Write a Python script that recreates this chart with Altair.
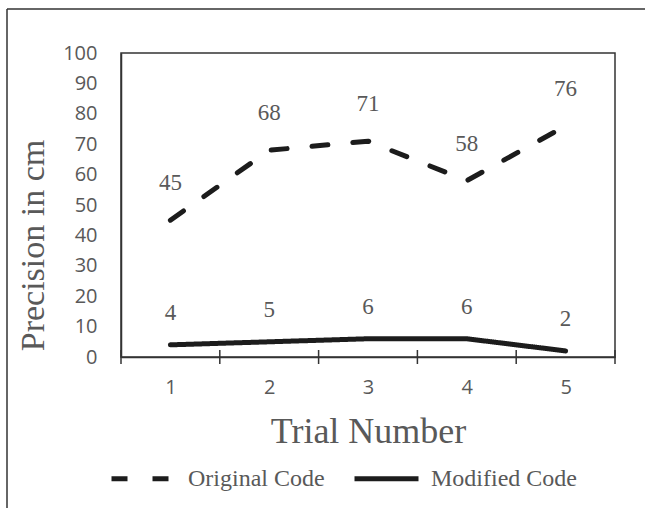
import altair as alt
import pandas as pd

trials = [1, 2, 3, 4, 5]
original = [45, 68, 71, 58, 76]
modified = [4, 5, 6, 6, 2]
series_names = ["Original Code", "Modified Code"]
y_ticks = [0, 10, 20, 30, 40, 50, 60, 70, 80, 90, 100]
band_edges = [0.5, 1.5, 2.5, 3.5, 4.5, 5.5]

W, H = 494, 304
GRAY = "#595959"
DARK = "#1c1c1c"
AXIS = "#333333"

rows = []
for t, v in zip(trials, original):
    rows.append({"trial": t, "value": v, "series": series_names[0]})
for t, v in zip(trials, modified):
    rows.append({"trial": t, "value": v, "series": series_names[1]})
df = pd.DataFrame(rows)
edges = pd.DataFrame({"edge": band_edges})

xscale = alt.Scale(domain=[0.5, 5.5], nice=False, zero=False)
yscale = alt.Scale(domain=[0, 100], nice=False)

x_axis = alt.Axis(values=trials, format="d", title="Trial Number", grid=False, ticks=False,
                  domainColor=AXIS, domainWidth=1.5, labelFont="Open Sans",
                  labelFontSize=20, labelColor=GRAY, labelPadding=20, labelOverlap=False,
                  titleFont="Liberation Serif", titleFontSize=36, titleFontWeight="normal",
                  titleColor=GRAY, titleBaseline="alphabetic", titleY=85, titleX=W / 2)
y_axis = alt.Axis(values=y_ticks, tickCount=11, format="d", title="Precision in cm",
                  grid=False, ticks=False,
                  domainColor=AXIS, domainWidth=1.5, labelFont="Open Sans",
                  labelFontSize=20, labelColor=GRAY, labelPadding=24, labelOverlap=False,
                  titleFont="Liberation Serif", titleFontSize=34, titleFontWeight="normal",
                  titleColor=GRAY, titleBaseline="alphabetic", titleX=-78, titleY=192,
                  titleAngle=270)


def xenc(field):
    return alt.X(field, scale=xscale, axis=x_axis)


def yenc(field):
    return alt.Y(field, scale=yscale, axis=y_axis)


lines = alt.Chart(df).mark_line(strokeWidth=5, strokeCap="round", strokeJoin="round", color=DARK).encode(
    x=xenc("trial:Q"),
    y=yenc("value:Q"),
    strokeDash=alt.StrokeDash("series:N",
                              scale=alt.Scale(domain=series_names, range=[[16, 25], [1, 0]]),
                              legend=alt.Legend(title=None, orient="none", direction="horizontal",
                                                legendX=-12, legendY=391,
                                                symbolType="stroke", symbolSize=4096,
                                                symbolStrokeWidth=5, symbolStrokeColor=DARK,
                                                labelFont="Liberation Serif", labelFontSize=24,
                                                labelColor=GRAY, labelOffset=10,
                                                columnPadding=19)),
)

labels_orig = alt.Chart(df[df.series == series_names[0]]).mark_text(
    font="Liberation Serif", fontSize=23, color=GRAY, dy=-37, baseline="middle"
).encode(x=xenc("trial:Q"), y=yenc("value:Q"), text="value:Q")

labels_mod = alt.Chart(df[df.series == series_names[1]]).mark_text(
    font="Liberation Serif", fontSize=23, color=GRAY, dy=-32, baseline="middle"
).encode(x=xenc("trial:Q"), y=yenc("value:Q"), text="value:Q")

ticks = alt.Chart(edges).mark_rule(color=AXIS, strokeWidth=1.5).encode(
    x=xenc("edge:Q"),
    y=alt.value(H - 7), y2=alt.value(H + 7),
)

frame_left = alt.Chart(edges.head(1)).mark_rule(color=AXIS, strokeWidth=1.5).encode(
    x=alt.value(-114), y=alt.value(-44), y2=alt.value(H + 200))
frame_top = alt.Chart(edges.head(1)).mark_rule(color=AXIS, strokeWidth=1.5).encode(
    x=alt.value(-114), x2=alt.value(W + 200), y=alt.value(-44))

chart = alt.layer(frame_left, frame_top, lines, ticks, labels_orig, labels_mod).properties(
    width=W, height=H,
    autosize=alt.AutoSizeParams(type="none"),
    padding={"left": 121, "top": 53, "right": 30, "bottom": 151},
    background="white",
).configure_view(stroke=AXIS, strokeWidth=1.5)

chart.save("out.html", embed_options={"renderer": "svg", "actions": False})
